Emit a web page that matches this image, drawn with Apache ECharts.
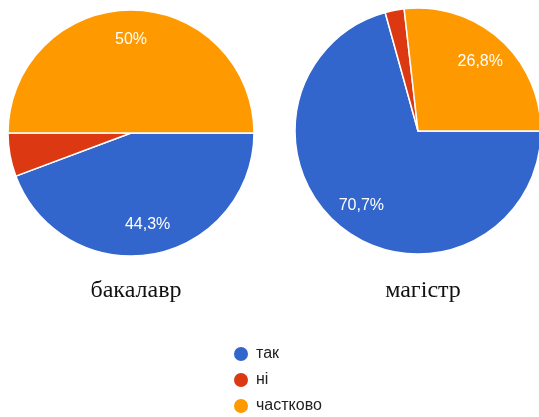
<!DOCTYPE html>
<html>
<head>
<meta charset="utf-8">
<script src="https://cdn.jsdelivr.net/npm/echarts@6/dist/echarts.min.js"></script>
<style>
  html,body{margin:0;padding:0;background:#fff;}
  #chart{width:539px;height:417px;}
</style>
</head>
<body>
<div id="chart"></div>
<script>
// answers
var categories = ['так', 'ні', 'частково'];
var groups = ['бакалавр', 'магістр'];
var bachelorValues = [44.3, 5.7, 50];
var masterValues = [70.7, 2.5, 26.8];
var colors = ['#3366cc', '#dc3912', '#ff9900'];

var centers = [[131, 133], [418, 131]];
var R = 123;

function toData(vals){
  return vals.map(function(v, i){ return {name: categories[i], value: v}; });
}

// label text like google: comma decimal, hide tiny slices
function pct(p){
  if (p.value < 6) return '';
  return String(p.value).replace('.', ',') + '%';
}

var series = [];
[bachelorValues, masterValues].forEach(function(vals, k){
  series.push({
    type: 'pie',
    center: centers[k],
    radius: [0, R],
    startAngle: 0,
    clockwise: true,
    animation: false,
    data: toData(vals),
    itemStyle: {borderColor: '#fff', borderWidth: 1.5},
    label: {show: false},
    labelLine: {show: false},
    emphasis: {disabled: true}
  });
  // invisible ring just for placing the labels further out
  series.push({
    type: 'pie',
    center: centers[k],
    radius: [58, R],
    startAngle: 0,
    clockwise: true,
    animation: false,
    silent: true,
    legendHoverLink: false,
    data: toData(vals),
    itemStyle: {color: 'rgba(0,0,0,0)', borderWidth: 0},
    label: {
      show: true,
      position: 'inside',
      formatter: pct,
      color: '#fff',
      fontSize: 16,
      fontFamily: 'Liberation Sans, Arial, sans-serif'
    },
    labelLine: {show: false},
    emphasis: {disabled: true}
  });
});

var chart = echarts.init(document.getElementById('chart'));
chart.setOption({
  color: colors,
  title: groups.map(function(g, k){
    return {
      text: g,
      left: centers[k][0],
      top: 274,
      textAlign: 'center',
      textStyle: {
        fontFamily: 'Liberation Serif, Times New Roman, serif',
        fontWeight: 'normal',
        fontSize: 24,
        color: '#111'
      }
    };
  }),
  legend: {
    orient: 'vertical',
    left: 232,
    top: 345,
    height: 90,
    padding: 0,
    icon: 'circle',
    itemWidth: 16,
    itemHeight: 16,
    itemGap: 8,
    data: categories,
    textStyle: {fontSize: 16, lineHeight: 16, color: '#222', padding: [0, 0, 0, 2],
      fontFamily: 'Liberation Sans, Arial, sans-serif'},
    selectedMode: false
  },
  series: series
});
</script>
</body>
</html>
